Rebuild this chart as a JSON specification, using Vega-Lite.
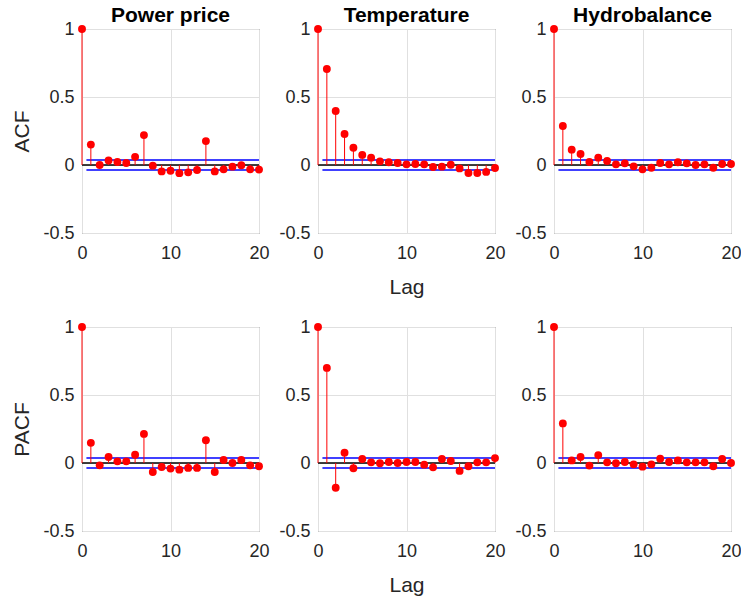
{
"$schema":"https://vega.github.io/schema/vega-lite/v6.json",
"padding":{"left":11,"top":4,"right":0,"bottom":0},
"background":"white",
"datasets":{
"lines":[{"kind":"bound","from":0.5,"to":20,"level":0.037},{"kind":"bound","from":0.5,"to":20,"level":-0.037},{"kind":"zero","from":0,"to":20,"level":0}],
"acf":[
{"s":"Power price","t":"ACF","lag":0,"v":1},{"s":"Power price","t":"ACF","lag":1,"v":0.15},{"s":"Power price","t":"ACF","lag":2,"v":0.0},{"s":"Power price","t":"ACF","lag":3,"v":0.034},{"s":"Power price","t":"ACF","lag":4,"v":0.022},{"s":"Power price","t":"ACF","lag":5,"v":0.015},{"s":"Power price","t":"ACF","lag":6,"v":0.06},{"s":"Power price","t":"ACF","lag":7,"v":0.22},{"s":"Power price","t":"ACF","lag":8,"v":-0.005},{"s":"Power price","t":"ACF","lag":9,"v":-0.047},{"s":"Power price","t":"ACF","lag":10,"v":-0.042},{"s":"Power price","t":"ACF","lag":11,"v":-0.06},{"s":"Power price","t":"ACF","lag":12,"v":-0.054},{"s":"Power price","t":"ACF","lag":13,"v":-0.037},{"s":"Power price","t":"ACF","lag":14,"v":0.176},{"s":"Power price","t":"ACF","lag":15,"v":-0.047},{"s":"Power price","t":"ACF","lag":16,"v":-0.032},{"s":"Power price","t":"ACF","lag":17,"v":-0.012},{"s":"Power price","t":"ACF","lag":18,"v":-0.002},{"s":"Power price","t":"ACF","lag":19,"v":-0.032},{"s":"Power price","t":"ACF","lag":20,"v":-0.034},
{"s":"Temperature","t":"ACF","lag":0,"v":1},{"s":"Temperature","t":"ACF","lag":1,"v":0.706},{"s":"Temperature","t":"ACF","lag":2,"v":0.397},{"s":"Temperature","t":"ACF","lag":3,"v":0.228},{"s":"Temperature","t":"ACF","lag":4,"v":0.127},{"s":"Temperature","t":"ACF","lag":5,"v":0.074},{"s":"Temperature","t":"ACF","lag":6,"v":0.054},{"s":"Temperature","t":"ACF","lag":7,"v":0.027},{"s":"Temperature","t":"ACF","lag":8,"v":0.02},{"s":"Temperature","t":"ACF","lag":9,"v":0.015},{"s":"Temperature","t":"ACF","lag":10,"v":0.005},{"s":"Temperature","t":"ACF","lag":11,"v":0.007},{"s":"Temperature","t":"ACF","lag":12,"v":0.005},{"s":"Temperature","t":"ACF","lag":13,"v":-0.015},{"s":"Temperature","t":"ACF","lag":14,"v":-0.012},{"s":"Temperature","t":"ACF","lag":15,"v":0.002},{"s":"Temperature","t":"ACF","lag":16,"v":-0.025},{"s":"Temperature","t":"ACF","lag":17,"v":-0.059},{"s":"Temperature","t":"ACF","lag":18,"v":-0.059},{"s":"Temperature","t":"ACF","lag":19,"v":-0.051},{"s":"Temperature","t":"ACF","lag":20,"v":-0.022},
{"s":"Hydrobalance","t":"ACF","lag":0,"v":1},{"s":"Hydrobalance","t":"ACF","lag":1,"v":0.287},{"s":"Hydrobalance","t":"ACF","lag":2,"v":0.113},{"s":"Hydrobalance","t":"ACF","lag":3,"v":0.081},{"s":"Hydrobalance","t":"ACF","lag":4,"v":0.022},{"s":"Hydrobalance","t":"ACF","lag":5,"v":0.054},{"s":"Hydrobalance","t":"ACF","lag":6,"v":0.03},{"s":"Hydrobalance","t":"ACF","lag":7,"v":0.005},{"s":"Hydrobalance","t":"ACF","lag":8,"v":0.012},{"s":"Hydrobalance","t":"ACF","lag":9,"v":-0.01},{"s":"Hydrobalance","t":"ACF","lag":10,"v":-0.032},{"s":"Hydrobalance","t":"ACF","lag":11,"v":-0.02},{"s":"Hydrobalance","t":"ACF","lag":12,"v":0.015},{"s":"Hydrobalance","t":"ACF","lag":13,"v":0.005},{"s":"Hydrobalance","t":"ACF","lag":14,"v":0.02},{"s":"Hydrobalance","t":"ACF","lag":15,"v":0.012},{"s":"Hydrobalance","t":"ACF","lag":16,"v":0},{"s":"Hydrobalance","t":"ACF","lag":17,"v":0.005},{"s":"Hydrobalance","t":"ACF","lag":18,"v":-0.02},{"s":"Hydrobalance","t":"ACF","lag":19,"v":0.007},{"s":"Hydrobalance","t":"ACF","lag":20,"v":0.007},
{"s":"Power price","t":"PACF","lag":0,"v":1},{"s":"Power price","t":"PACF","lag":1,"v":0.148},{"s":"Power price","t":"PACF","lag":2,"v":-0.017},{"s":"Power price","t":"PACF","lag":3,"v":0.044},{"s":"Power price","t":"PACF","lag":4,"v":0.012},{"s":"Power price","t":"PACF","lag":5,"v":0.012},{"s":"Power price","t":"PACF","lag":6,"v":0.061},{"s":"Power price","t":"PACF","lag":7,"v":0.214},{"s":"Power price","t":"PACF","lag":8,"v":-0.066},{"s":"Power price","t":"PACF","lag":9,"v":-0.029},{"s":"Power price","t":"PACF","lag":10,"v":-0.041},{"s":"Power price","t":"PACF","lag":11,"v":-0.049},{"s":"Power price","t":"PACF","lag":12,"v":-0.036},{"s":"Power price","t":"PACF","lag":13,"v":-0.036},{"s":"Power price","t":"PACF","lag":14,"v":0.167},{"s":"Power price","t":"PACF","lag":15,"v":-0.066},{"s":"Power price","t":"PACF","lag":16,"v":0.022},{"s":"Power price","t":"PACF","lag":17,"v":0},{"s":"Power price","t":"PACF","lag":18,"v":0.022},{"s":"Power price","t":"PACF","lag":19,"v":-0.017},{"s":"Power price","t":"PACF","lag":20,"v":-0.024},
{"s":"Temperature","t":"PACF","lag":0,"v":1},{"s":"Temperature","t":"PACF","lag":1,"v":0.699},{"s":"Temperature","t":"PACF","lag":2,"v":-0.182},{"s":"Temperature","t":"PACF","lag":3,"v":0.075},{"s":"Temperature","t":"PACF","lag":4,"v":-0.039},{"s":"Temperature","t":"PACF","lag":5,"v":0.029},{"s":"Temperature","t":"PACF","lag":6,"v":0.005},{"s":"Temperature","t":"PACF","lag":7,"v":-0.002},{"s":"Temperature","t":"PACF","lag":8,"v":0.007},{"s":"Temperature","t":"PACF","lag":9,"v":0},{"s":"Temperature","t":"PACF","lag":10,"v":0.007},{"s":"Temperature","t":"PACF","lag":11,"v":0.007},{"s":"Temperature","t":"PACF","lag":12,"v":-0.012},{"s":"Temperature","t":"PACF","lag":13,"v":-0.032},{"s":"Temperature","t":"PACF","lag":14,"v":0.029},{"s":"Temperature","t":"PACF","lag":15,"v":0.015},{"s":"Temperature","t":"PACF","lag":16,"v":-0.058},{"s":"Temperature","t":"PACF","lag":17,"v":-0.024},{"s":"Temperature","t":"PACF","lag":18,"v":0.005},{"s":"Temperature","t":"PACF","lag":19,"v":0.005},{"s":"Temperature","t":"PACF","lag":20,"v":0.036},
{"s":"Hydrobalance","t":"PACF","lag":0,"v":1},{"s":"Hydrobalance","t":"PACF","lag":1,"v":0.291},{"s":"Hydrobalance","t":"PACF","lag":2,"v":0.019},{"s":"Hydrobalance","t":"PACF","lag":3,"v":0.044},{"s":"Hydrobalance","t":"PACF","lag":4,"v":-0.019},{"s":"Hydrobalance","t":"PACF","lag":5,"v":0.058},{"s":"Hydrobalance","t":"PACF","lag":6,"v":0.005},{"s":"Hydrobalance","t":"PACF","lag":7,"v":-0.002},{"s":"Hydrobalance","t":"PACF","lag":8,"v":0.007},{"s":"Hydrobalance","t":"PACF","lag":9,"v":-0.01},{"s":"Hydrobalance","t":"PACF","lag":10,"v":-0.027},{"s":"Hydrobalance","t":"PACF","lag":11,"v":-0.01},{"s":"Hydrobalance","t":"PACF","lag":12,"v":0.032},{"s":"Hydrobalance","t":"PACF","lag":13,"v":0.007},{"s":"Hydrobalance","t":"PACF","lag":14,"v":0.019},{"s":"Hydrobalance","t":"PACF","lag":15,"v":0.005},{"s":"Hydrobalance","t":"PACF","lag":16,"v":0.005},{"s":"Hydrobalance","t":"PACF","lag":17,"v":0.005},{"s":"Hydrobalance","t":"PACF","lag":18,"v":-0.024},{"s":"Hydrobalance","t":"PACF","lag":19,"v":0.029},{"s":"Hydrobalance","t":"PACF","lag":20,"v":0}
]},
"columns":3,
"spacing":{"row":94,"column":59},
"bounds":"flush",
"concat":[
{"width":177,"height":204,"title":"Power price","layer":[
{"data":{"name":"lines"},"transform":[{"filter":"datum.kind=='zero'"}],"mark":{"type":"rule","color":"black","strokeWidth":1.5},"encoding":{"x":{"field":"from","type":"quantitative","title":null,"scale":{"domain":[0,20],"nice":false},"axis":{"values":[0,10,20]}},"x2":{"field":"to"},"y":{"field":"level","type":"quantitative","title":"ACF","scale":{"domain":[-0.5,1],"nice":false},"axis":{"values":[-0.5,0,0.5,1],"labelExpr":"toString(datum.value)"}}}},
{"data":{"name":"lines"},"transform":[{"filter":"datum.kind=='bound'"}],"mark":{"type":"rule","color":"#0000ff","strokeWidth":1.5},"encoding":{"x":{"field":"from","type":"quantitative","title":null},"x2":{"field":"to"},"y":{"field":"level","type":"quantitative","title":"ACF"}}},
{"data":{"name":"acf"},"transform":[{"filter":"datum.s=='Power price' && datum.t=='ACF'"}],"mark":{"type":"rule","color":"#ff0000","strokeWidth":1},"encoding":{"x":{"field":"lag","type":"quantitative","title":null},"y":{"field":"v","type":"quantitative","title":"ACF"},"y2":{"datum":0}}},
{"data":{"name":"acf"},"transform":[{"filter":"datum.s=='Power price' && datum.t=='ACF'"}],"mark":{"type":"point","filled":true,"color":"#ff0000","size":62,"opacity":1},"encoding":{"x":{"field":"lag","type":"quantitative","title":null},"y":{"field":"v","type":"quantitative","title":"ACF"}}}
]},
{"width":177,"height":204,"title":"Temperature","layer":[
{"data":{"name":"lines"},"transform":[{"filter":"datum.kind=='zero'"}],"mark":{"type":"rule","color":"black","strokeWidth":1.5},"encoding":{"x":{"field":"from","type":"quantitative","title":"Lag","scale":{"domain":[0,20],"nice":false},"axis":{"values":[0,10,20]}},"x2":{"field":"to"},"y":{"field":"level","type":"quantitative","title":null,"scale":{"domain":[-0.5,1],"nice":false},"axis":{"values":[-0.5,0,0.5,1],"labelExpr":"toString(datum.value)"}}}},
{"data":{"name":"lines"},"transform":[{"filter":"datum.kind=='bound'"}],"mark":{"type":"rule","color":"#0000ff","strokeWidth":1.5},"encoding":{"x":{"field":"from","type":"quantitative","title":"Lag"},"x2":{"field":"to"},"y":{"field":"level","type":"quantitative","title":null}}},
{"data":{"name":"acf"},"transform":[{"filter":"datum.s=='Temperature' && datum.t=='ACF'"}],"mark":{"type":"rule","color":"#ff0000","strokeWidth":1},"encoding":{"x":{"field":"lag","type":"quantitative","title":"Lag"},"y":{"field":"v","type":"quantitative","title":null},"y2":{"datum":0}}},
{"data":{"name":"acf"},"transform":[{"filter":"datum.s=='Temperature' && datum.t=='ACF'"}],"mark":{"type":"point","filled":true,"color":"#ff0000","size":62,"opacity":1},"encoding":{"x":{"field":"lag","type":"quantitative","title":"Lag"},"y":{"field":"v","type":"quantitative","title":null}}}
]},
{"width":177,"height":204,"title":"Hydrobalance","layer":[
{"data":{"name":"lines"},"transform":[{"filter":"datum.kind=='zero'"}],"mark":{"type":"rule","color":"black","strokeWidth":1.5},"encoding":{"x":{"field":"from","type":"quantitative","title":null,"scale":{"domain":[0,20],"nice":false},"axis":{"values":[0,10,20]}},"x2":{"field":"to"},"y":{"field":"level","type":"quantitative","title":null,"scale":{"domain":[-0.5,1],"nice":false},"axis":{"values":[-0.5,0,0.5,1],"labelExpr":"toString(datum.value)"}}}},
{"data":{"name":"lines"},"transform":[{"filter":"datum.kind=='bound'"}],"mark":{"type":"rule","color":"#0000ff","strokeWidth":1.5},"encoding":{"x":{"field":"from","type":"quantitative","title":null},"x2":{"field":"to"},"y":{"field":"level","type":"quantitative","title":null}}},
{"data":{"name":"acf"},"transform":[{"filter":"datum.s=='Hydrobalance' && datum.t=='ACF'"}],"mark":{"type":"rule","color":"#ff0000","strokeWidth":1},"encoding":{"x":{"field":"lag","type":"quantitative","title":null},"y":{"field":"v","type":"quantitative","title":null},"y2":{"datum":0}}},
{"data":{"name":"acf"},"transform":[{"filter":"datum.s=='Hydrobalance' && datum.t=='ACF'"}],"mark":{"type":"point","filled":true,"color":"#ff0000","size":62,"opacity":1},"encoding":{"x":{"field":"lag","type":"quantitative","title":null},"y":{"field":"v","type":"quantitative","title":null}}}
]},
{"width":177,"height":204,"layer":[
{"data":{"name":"lines"},"transform":[{"filter":"datum.kind=='zero'"}],"mark":{"type":"rule","color":"black","strokeWidth":1.5},"encoding":{"x":{"field":"from","type":"quantitative","title":null,"scale":{"domain":[0,20],"nice":false},"axis":{"values":[0,10,20]}},"x2":{"field":"to"},"y":{"field":"level","type":"quantitative","title":"PACF","scale":{"domain":[-0.5,1],"nice":false},"axis":{"values":[-0.5,0,0.5,1],"labelExpr":"toString(datum.value)"}}}},
{"data":{"name":"lines"},"transform":[{"filter":"datum.kind=='bound'"}],"mark":{"type":"rule","color":"#0000ff","strokeWidth":1.5},"encoding":{"x":{"field":"from","type":"quantitative","title":null},"x2":{"field":"to"},"y":{"field":"level","type":"quantitative","title":"PACF"}}},
{"data":{"name":"acf"},"transform":[{"filter":"datum.s=='Power price' && datum.t=='PACF'"}],"mark":{"type":"rule","color":"#ff0000","strokeWidth":1},"encoding":{"x":{"field":"lag","type":"quantitative","title":null},"y":{"field":"v","type":"quantitative","title":"PACF"},"y2":{"datum":0}}},
{"data":{"name":"acf"},"transform":[{"filter":"datum.s=='Power price' && datum.t=='PACF'"}],"mark":{"type":"point","filled":true,"color":"#ff0000","size":62,"opacity":1},"encoding":{"x":{"field":"lag","type":"quantitative","title":null},"y":{"field":"v","type":"quantitative","title":"PACF"}}}
]},
{"width":177,"height":204,"layer":[
{"data":{"name":"lines"},"transform":[{"filter":"datum.kind=='zero'"}],"mark":{"type":"rule","color":"black","strokeWidth":1.5},"encoding":{"x":{"field":"from","type":"quantitative","title":"Lag","scale":{"domain":[0,20],"nice":false},"axis":{"values":[0,10,20]}},"x2":{"field":"to"},"y":{"field":"level","type":"quantitative","title":null,"scale":{"domain":[-0.5,1],"nice":false},"axis":{"values":[-0.5,0,0.5,1],"labelExpr":"toString(datum.value)"}}}},
{"data":{"name":"lines"},"transform":[{"filter":"datum.kind=='bound'"}],"mark":{"type":"rule","color":"#0000ff","strokeWidth":1.5},"encoding":{"x":{"field":"from","type":"quantitative","title":"Lag"},"x2":{"field":"to"},"y":{"field":"level","type":"quantitative","title":null}}},
{"data":{"name":"acf"},"transform":[{"filter":"datum.s=='Temperature' && datum.t=='PACF'"}],"mark":{"type":"rule","color":"#ff0000","strokeWidth":1},"encoding":{"x":{"field":"lag","type":"quantitative","title":"Lag"},"y":{"field":"v","type":"quantitative","title":null},"y2":{"datum":0}}},
{"data":{"name":"acf"},"transform":[{"filter":"datum.s=='Temperature' && datum.t=='PACF'"}],"mark":{"type":"point","filled":true,"color":"#ff0000","size":62,"opacity":1},"encoding":{"x":{"field":"lag","type":"quantitative","title":"Lag"},"y":{"field":"v","type":"quantitative","title":null}}}
]},
{"width":177,"height":204,"layer":[
{"data":{"name":"lines"},"transform":[{"filter":"datum.kind=='zero'"}],"mark":{"type":"rule","color":"black","strokeWidth":1.5},"encoding":{"x":{"field":"from","type":"quantitative","title":null,"scale":{"domain":[0,20],"nice":false},"axis":{"values":[0,10,20]}},"x2":{"field":"to"},"y":{"field":"level","type":"quantitative","title":null,"scale":{"domain":[-0.5,1],"nice":false},"axis":{"values":[-0.5,0,0.5,1],"labelExpr":"toString(datum.value)"}}}},
{"data":{"name":"lines"},"transform":[{"filter":"datum.kind=='bound'"}],"mark":{"type":"rule","color":"#0000ff","strokeWidth":1.5},"encoding":{"x":{"field":"from","type":"quantitative","title":null},"x2":{"field":"to"},"y":{"field":"level","type":"quantitative","title":null}}},
{"data":{"name":"acf"},"transform":[{"filter":"datum.s=='Hydrobalance' && datum.t=='PACF'"}],"mark":{"type":"rule","color":"#ff0000","strokeWidth":1},"encoding":{"x":{"field":"lag","type":"quantitative","title":null},"y":{"field":"v","type":"quantitative","title":null},"y2":{"datum":0}}},
{"data":{"name":"acf"},"transform":[{"filter":"datum.s=='Hydrobalance' && datum.t=='PACF'"}],"mark":{"type":"point","filled":true,"color":"#ff0000","size":62,"opacity":1},"encoding":{"x":{"field":"lag","type":"quantitative","title":null},"y":{"field":"v","type":"quantitative","title":null}}}
]}
],
"config":{
"font":"Liberation Sans",
"view":{"stroke":"#555555","strokeWidth":1},
"axis":{"labelFont":"Liberation Sans","labelFontSize":18,"labelColor":"#262626","titleFont":"Liberation Sans","titleFontSize":21,"titleFontWeight":"normal","titleColor":"#262626","domain":false,"ticks":false,"tickSize":0,"gridColor":"#e0e0e0","gridWidth":1,"labelFlush":false},
"axisX":{"labelPadding":11,"titlePadding":14},
"axisY":{"labelPadding":8,"titlePadding":10},
"title":{"font":"Liberation Sans","fontSize":21,"fontWeight":"bold","color":"black","offset":7,"dy":12.5,"anchor":"middle","frame":"group"}
}
}
